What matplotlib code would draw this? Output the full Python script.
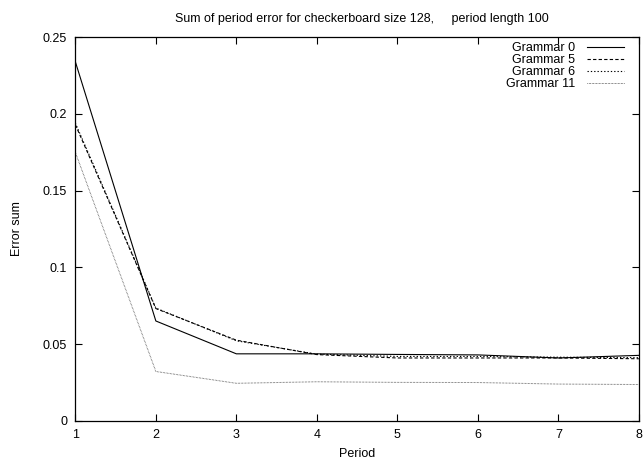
import matplotlib
matplotlib.use('Agg')
import matplotlib.pyplot as plt

plt.rcParams['font.family'] = ['Liberation Sans', 'DejaVu Sans']
plt.rcParams['font.size'] = 9

# Data
period = [1, 2, 3, 4, 5, 6, 7, 8]
grammar_0 = [0.234, 0.0651, 0.0437, 0.0437, 0.0433, 0.0430, 0.0410, 0.0427]
grammar_5 = [0.193, 0.0732, 0.0526, 0.0432, 0.0410, 0.0410, 0.0410, 0.0405]
grammar_6 = [0.194, 0.0735, 0.0522, 0.0435, 0.0420, 0.0420, 0.0415, 0.0412]
grammar_11 = [0.175, 0.0322, 0.0245, 0.0255, 0.0251, 0.0250, 0.0240, 0.0237]
labels = ['Grammar 0', 'Grammar 5', 'Grammar 6', 'Grammar 11']

fig = plt.figure(figsize=(6.44, 4.59), dpi=100)
ax = fig.add_axes([0.117, 0.083, 0.875, 0.836])

ax.plot(period, grammar_0, color='black', lw=0.8, label=labels[0])
ax.plot(period, grammar_5, color='black', lw=0.8, dashes=(3, 2), label=labels[1])
ax.plot(period, grammar_6, color='black', lw=0.8, dashes=(1.2, 1.8), label=labels[2])
ax.plot(period, grammar_11, color='#444444', lw=0.7, dashes=(0.6, 0.9), label=labels[3])

ax.set_xlim(1, 8)
ax.set_ylim(0, 0.25)
ax.set_xticks(period)
ax.set_yticks([0, 0.05, 0.1, 0.15, 0.2, 0.25])
ax.set_yticklabels(['0', '0.05', '0.1', '0.15', '0.2', '0.25'])
ax.tick_params(direction='in', top=True, right=True, length=5, width=0.8, pad=6)
for s in ax.spines.values():
    s.set_linewidth(0.9)

ax.set_xlabel('Period', labelpad=5)
ax.set_ylabel('Error sum', labelpad=14)
fig.text(0.562, 0.959, 'Sum of period error for checkerboard size 128,     period length 100',
         ha='center', va='center')

ax.legend(loc='upper right', frameon=False, markerfirst=False, handlelength=2.9,
          labelspacing=0.0, handletextpad=1.0, borderaxespad=0.0,
          bbox_to_anchor=(0.982, 1.0))

fig.savefig('out.png', dpi=100)
